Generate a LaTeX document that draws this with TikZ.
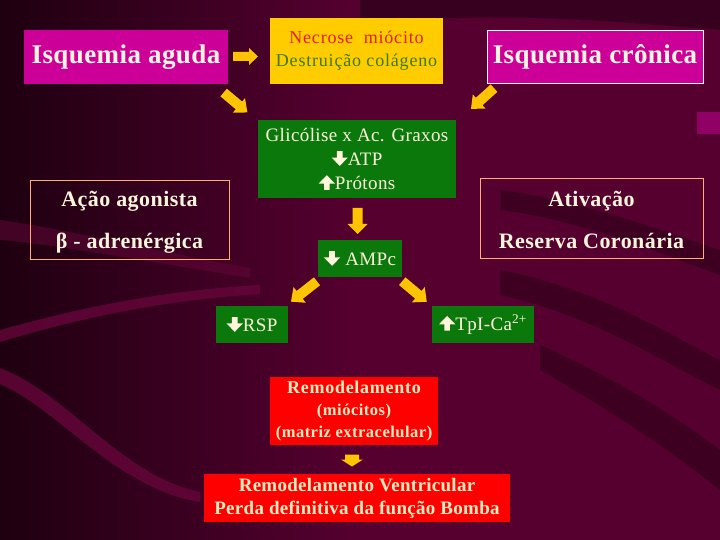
\documentclass[tikz,border=0pt]{standalone}
\usepackage{fontspec}
\setmainfont{Liberation Serif}
\definecolor{bgdark}{HTML}{1E0010}
\definecolor{bgmid}{HTML}{560030}
\definecolor{bgband}{HTML}{66063A}
\definecolor{bgshadow}{HTML}{2E0018}
\definecolor{magbox}{HTML}{CC0099}
\definecolor{yelbox}{HTML}{FFCC00}
\definecolor{grnbox}{HTML}{0A780A}
\definecolor{redbox}{HTML}{FF0000}
\definecolor{arrowcol}{HTML}{FFC400}
\definecolor{cream}{HTML}{FFF6DC}
\definecolor{beige}{HTML}{FFEBC0}
\definecolor{framecol}{HTML}{FFB070}
\definecolor{necred}{HTML}{E41E14}
\definecolor{necgrn}{HTML}{3C7A10}
\newcommand{\dnarr}{\tikz[x=0.055em,y=0.055em,baseline=0pt]\fill[cream] (-2.7,13.5) -- (2.7,13.5) -- (2.7,7.5) -- (7.8,7.5) -- (0,-0.5) -- (-7.8,7.5) -- (-2.7,7.5) -- cycle;}
\newcommand{\uparr}{\tikz[x=0.055em,y=0.055em,baseline=0pt]\fill[cream] (-2.7,-0.5) -- (2.7,-0.5) -- (2.7,5.5) -- (7.8,5.5) -- (0,13.5) -- (-7.8,5.5) -- (-2.7,5.5) -- cycle;}
% x y angle length shaft head headlength
\newcommand{\blockarrow}[7]{\fill[arrowcol,shift={(#1,#2)},rotate=#3] (-#4/2,-#5/2) -- (#4/2-#7,-#5/2) -- (#4/2-#7,-#6/2) -- (#4/2,0) -- (#4/2-#7,#6/2) -- (#4/2-#7,#5/2) -- (-#4/2,#5/2) -- cycle;}
\tikzset{
  box/.style={rectangle,inner sep=0pt,align=center},
  magstyle/.style={box,fill=magbox,text=cream,font=\fontsize{27}{30}\selectfont\bfseries\addfontfeature{LetterSpace=1.5}},
  grnstyle/.style={box,fill=grnbox,text=cream,font=\fontsize{19}{24}\selectfont\addfontfeature{LetterSpace=2}},
  redstyle/.style={box,fill=redbox,text=beige,font=\fontsize{18}{22}\selectfont\bfseries\addfontfeature{LetterSpace=4}},
  framestyle/.style={box,draw=framecol,line width=0.9pt},
  frametext/.style={box,text=cream,font=\fontsize{22}{42}\selectfont\bfseries\addfontfeature{LetterSpace=2}},
}
\begin{document}
\begin{tikzpicture}[x=1pt,y=-1pt]
\path[use as bounding box] (0,0) rectangle (720,540);
% background
\fill[left color=bgdark,right color=bgmid] (0,0) rectangle (360,540);
\fill[bgmid] (360,0) rectangle (720,540);
\fill[bgdark,opacity=0.55] (360,0) -- (720,0) -- (720,30) .. controls (600,20) and (480,10) .. (360,25) -- cycle;
\fill[bgband,opacity=0.8] (0,330) .. controls (90,305) and (170,290) .. (260,285) -- (260,294) .. controls (170,300) and (90,315) .. (0,342) -- cycle;
\fill[bgband,opacity=0.8] (0,368) .. controls (70,395) and (120,475) .. (200,492) -- (200,502) .. controls (115,488) and (60,410) .. (0,384) -- cycle;
\fill[bgband,opacity=0.5] (0,220) .. controls (60,228) and (150,250) .. (250,268) -- (250,278) .. controls (150,262) and (60,245) .. (0,240) -- cycle;
\fill[bgshadow,opacity=0.6] (500,190) .. controls (580,200) and (660,230) .. (720,250) -- (720,275) .. controls (650,250) and (580,220) .. (500,210) -- cycle;
\fill[bgshadow,opacity=0.6] (500,270) .. controls (600,290) and (660,330) .. (720,360) -- (720,390) .. controls (650,355) and (590,315) .. (500,295) -- cycle;
\fill[bgshadow,opacity=0.6] (540,345) .. controls (620,380) and (680,420) .. (720,450) -- (720,490) .. controls (670,450) and (610,410) .. (540,370) -- cycle;
\fill[magbox,opacity=0.5] (697,112) rectangle (720,134);
% boxes
\node[magstyle,minimum width=204,minimum height=54] (aguda) at (126,57) {Isquemia aguda};
\node[box,fill=yelbox,minimum width=173,minimum height=66,font=\fontsize{18}{23}\selectfont\addfontfeature{LetterSpace=4.5}] (necrose) at (356.5,51) {\textcolor{necred}{Necrose\ \ miócito}\\\textcolor{necgrn}{Destruição colágeno}};
\node[magstyle,draw=white,line width=0.9pt,minimum width=216,minimum height=53] (cronica) at (595,56.5) {Isquemia crônica};
\node[grnstyle,minimum width=198,minimum height=78] (glic) at (357,159) {Glicólise x Ac. Graxos\\\dnarr ATP\\\uparr Prótons};
\node[grnstyle,minimum width=84,minimum height=37] (ampc) at (360,258.5) {\dnarr\ AMPc};
\node[framestyle,minimum width=199,minimum height=79] (acao) at (129.5,219.5) {};
\node[frametext] (acaotxt) at (129.5,222.5) {Ação agonista\\β - adrenérgica};
\node[framestyle,minimum width=223,minimum height=80] (ativ) at (591.5,218) {};
\node[frametext] (ativtxt) at (591.5,220) {Ativação\\Reserva Coronária};
\node[grnstyle,minimum width=72,minimum height=37] (rsp) at (252,324.5) {\dnarr RSP};
\node[grnstyle,minimum width=102,minimum height=37] (tpi) at (483,324.5) {\uparr TpI-Ca\textsuperscript{2+}};
\node[redstyle,minimum width=168,minimum height=68] (remod) at (354,411) {Remodelamento\\{\fontsize{16.5}{22}\selectfont\addfontfeature{LetterSpace=3} (miócitos)}\\{\fontsize{16.5}{22}\selectfont\addfontfeature{LetterSpace=3} (matriz extracelular)}};
\node[redstyle,font=\fontsize{19}{23}\selectfont\bfseries\addfontfeature{LetterSpace=1.5}, minimum width=306,minimum height=48] (final) at (357,498) {Remodelamento Ventricular\\Perda definitiva da função Bomba};
% block arrows
\blockarrow{245.5}{56.5}{0}{25}{9}{17}{9}
\blockarrow{235.5}{102.5}{-40}{31}{10}{19}{11}
\blockarrow{482.5}{98.5}{-138}{31}{10}{19}{11}
\blockarrow{357.5}{221}{-90}{26}{10}{20}{10}
\blockarrow{304}{291.5}{-142}{33}{10}{20}{11}
\blockarrow{414.5}{291.5}{-40}{32}{10}{20}{11}
\blockarrow{352}{460.5}{-90}{12}{14}{22}{7}
\end{tikzpicture}
\end{document}
